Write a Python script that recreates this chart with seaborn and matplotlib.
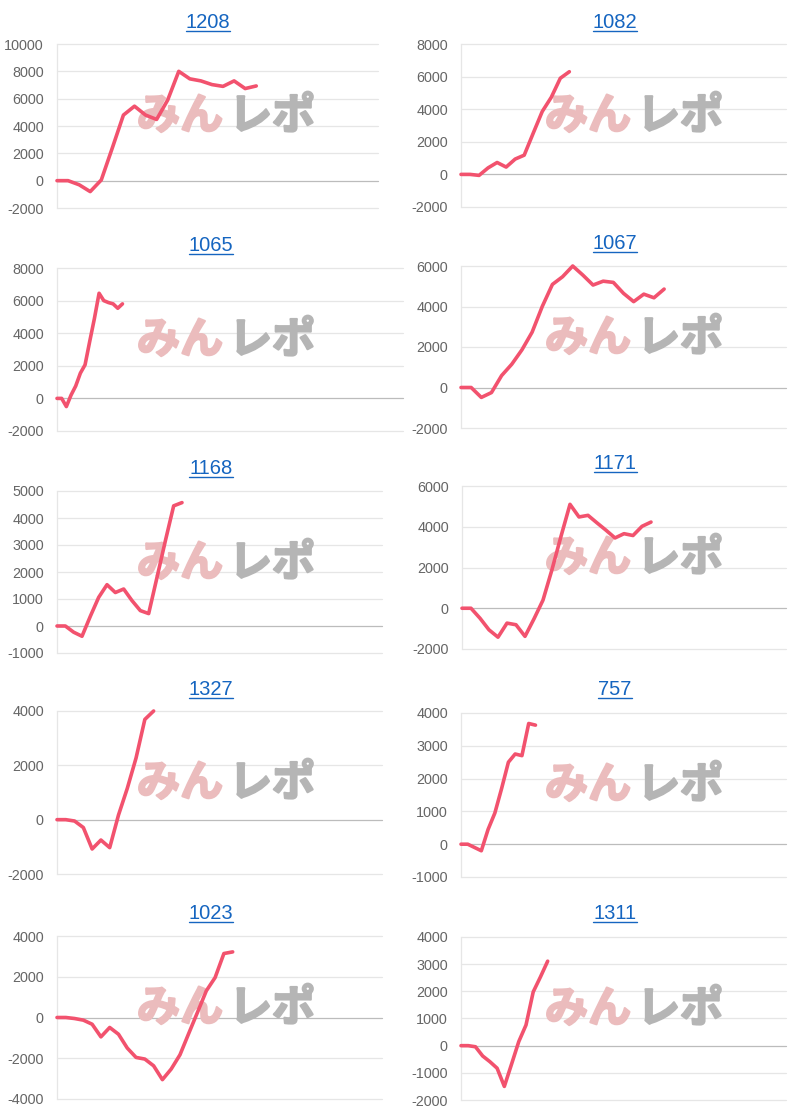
import numpy as np
import pandas as pd
import matplotlib
matplotlib.use("Agg")
import matplotlib.pyplot as plt
import matplotlib.patheffects as pe
import seaborn as sns
from matplotlib.lines import Line2D

# ---------------- data ----------------
titles = ["1208", "1082", "1065", "1067", "1168", "1171", "1327", "757", "1023", "1311"]

s1208 = [0, 0, -300, -800, 50, 2400, 4800, 5450, 4800, 4480, 5900, 8000, 7450, 7300, 7030, 6900, 7300, 6740, 6930]
s1082 = [0, 0, -60, 400, 730, 450, 940, 1180, 2530, 3860, 4730, 5900, 6300]
s1065 = [0, 0, -500, 200, 760, 1550, 2060, 3500, 4900, 6450, 6000, 5880, 5800, 5530, 5800]
s1067 = [0, 0, -490, -250, 590, 1150, 1860, 2730, 4000, 5090, 5470, 6000, 5550, 5060, 5250, 5190, 4650, 4240, 4610, 4430, 4860]
s1168 = [0, 0, -230, -380, 360, 1060, 1530, 1240, 1370, 940, 570, 460, 1800, 3150, 4450, 4570]
s1171 = [0, 0, -490, -1060, -1420, -730, -810, -1380, -520, 400, 1900, 3530, 5100, 4480, 4560, 4190, 3830, 3450, 3660, 3570, 4020, 4230]
s1327 = [0, 0, -50, -290, -1080, -750, -1030, 170, 1150, 2270, 3690, 4000]
s757 = [0, 0, -100, -200, 450, 950, 1700, 2500, 2750, 2700, 3680, 3630]
s1023 = [0, 0, -50, -130, -330, -950, -490, -820, -1500, -1960, -2040, -2370, -3050, -2530, -1830, -780, 260, 1310, 1960, 3140, 3220]
s1311 = [0, 0, -40, -380, -590, -830, -1500, -680, 150, 760, 1980, 2530, 3110]

series = [s1208, s1082, s1065, s1067, s1168, s1171, s1327, s757, s1023, s1311]
slots = [29, 36, 74, 32, 39, 36, 37, 48, 37, 45]
ytick_lo = [-2000, -2000, -2000, -2000, -1000, -2000, -2000, -1000, -4000, -2000]
ytick_hi = [10000, 8000, 8000, 6000, 5000, 6000, 4000, 4000, 4000, 4000]
ytick_step = [2000, 2000, 2000, 2000, 1000, 2000, 2000, 1000, 2000, 1000]

# ---------------- layout / style ----------------
W, H = 808, 1115
boxes = [(57, 44, 378, 208), (461, 44, 786, 207),
         (57, 268, 403, 431), (461, 266, 786, 428),
         (57, 491, 382, 653), (462, 486, 786, 649),
         (57, 711, 382, 874), (461, 713, 786, 877),
         (57, 936, 382, 1099), (461, 937, 786, 1100)]
title_pos = [(208, 30.7), (615, 30.7), (211, 254), (615, 251.7), (211, 476.7),
             (615, 472.3), (211, 697.7), (615, 698.3), (211, 921.7), (615, 922.3)]
mark_split = [226, 634]

LINE = "#f2526e"
BLUE = "#1565c0"
GRID = "#e6e6e6"
ZERO = "#bcbcbc"
PINK = "#ebbcbd"
GREY = "#b5b5b5"

sns.set_theme(style="white")
plt.rcParams["font.family"] = ["Liberation Sans", "Noto Sans CJK JP", "DejaVu Sans"]

fig = plt.figure(figsize=(W / 100, H / 100), dpi=100)
fig.patch.set_facecolor("white")

title_texts = []
for i, (title, vals) in enumerate(zip(titles, series)):
    x0, y0, x1, y1 = boxes[i]
    ax = fig.add_axes([x0 / W, 1 - y1 / H, (x1 - x0) / W, (y1 - y0) / H])
    ax.set_facecolor("white")
    df = pd.DataFrame({"x": np.arange(len(vals)), "y": vals})
    sns.lineplot(data=df, x="x", y="y", ax=ax, color=LINE, linewidth=2.6, zorder=5)
    for ln in ax.get_lines():
        ln.set_clip_on(False)
        ln.set_solid_joinstyle("round")
    lo, hi, st = ytick_lo[i], ytick_hi[i], ytick_step[i]
    ticks = np.arange(lo, hi + 1, st)
    ax.set_xlim(0, slots[i])
    ax.set_ylim(lo, hi)
    ax.set_yticks(ticks)
    ax.set_yticklabels([str(int(t)) for t in ticks])
    ax.set_xticks([])
    ax.set_xlabel("")
    ax.set_ylabel("")
    for t in ticks:
        ax.axhline(t, color=ZERO if t == 0 else GRID, linewidth=0.9, zorder=1, clip_on=False)
    for sp in ["top", "right", "bottom"]:
        ax.spines[sp].set_visible(False)
    ax.spines["left"].set_color(GRID)
    ax.spines["left"].set_linewidth(0.9)
    ax.tick_params(axis="y", length=7, width=0.9, color=GRID, pad=2.5,
                   labelsize=10.4, labelcolor="#666666")

    # watermark
    sx = mark_split[i % 2]
    wy = 1 - (y0 + 72) / H
    ax.text((sx - 3) / W, wy, "みん", transform=fig.transFigure, ha="right", va="center",
            color=PINK, fontsize=31, fontweight="bold", family=["Noto Sans CJK JP"],
            zorder=2, path_effects=[pe.withStroke(linewidth=1.6, foreground=PINK)])
    ax.text((sx + 3) / W, wy, "レポ", transform=fig.transFigure, ha="left", va="center",
            color=GREY, fontsize=31, fontweight="bold", family=["Noto Sans CJK JP"],
            zorder=2, path_effects=[pe.withStroke(linewidth=1.6, foreground=GREY)])

    tx, uy = title_pos[i]
    tt = fig.text(tx / W, 1 - (uy - 3) / H, title, ha="center", va="baseline",
                  color=BLUE, fontsize=14.5)
    title_texts.append((tt, uy))

fig.canvas.draw()
rend = fig.canvas.get_renderer()
for tt, uy in title_texts:
    bb = tt.get_window_extent(renderer=rend)
    fig.add_artist(Line2D([bb.x0 / W, bb.x1 / W], [1 - uy / H, 1 - uy / H],
                          transform=fig.transFigure, color=BLUE, linewidth=1.0))

fig.savefig("out.png", dpi=100)
